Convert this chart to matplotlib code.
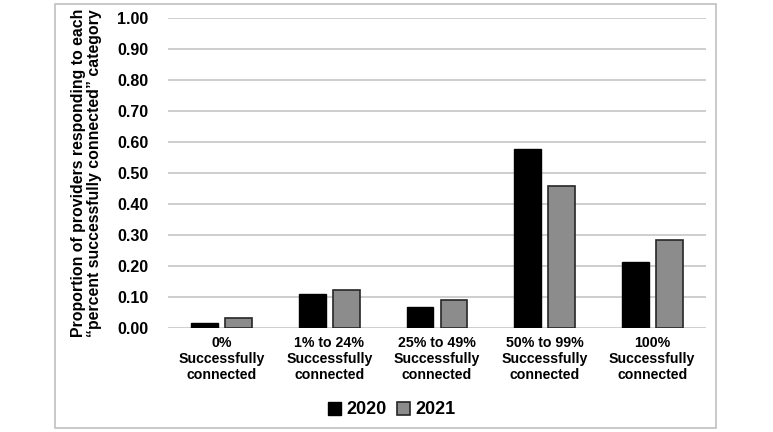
import matplotlib
matplotlib.use("Agg")
import matplotlib.pyplot as plt
import numpy as np
from matplotlib.patches import Rectangle

plt.rcParams['font.family'] = ['Liberation Sans', 'DejaVu Sans']

categories = ["0%\nSuccessfully\nconnected", "1% to 24%\nSuccessfully\nconnected",
              "25% to 49%\nSuccessfully\nconnected", "50% to 99%\nSuccessfully\nconnected",
              "100%\nSuccessfully\nconnected"]
vals_2020 = [0.016, 0.110, 0.068, 0.577, 0.214]
vals_2021 = [0.031, 0.123, 0.090, 0.459, 0.283]
yticks = [0.0, 0.1, 0.2, 0.3, 0.4, 0.5, 0.6, 0.7, 0.8, 0.9, 1.0]

fig = plt.figure(figsize=(7.73, 4.32), dpi=100)
ax = fig.add_axes([168 / 773, 1 - 328 / 432, 538 / 773, 310 / 432])

x = np.arange(len(categories))
w = 0.25
ax.bar(x - 0.158, vals_2020, w, color="black", edgecolor="black", linewidth=1, label="2020", zorder=3)
ax.bar(x + 0.158, vals_2021, w, color="#8c8c8c", edgecolor="#262626", linewidth=1.2, label="2021", zorder=3)

ax.set_xlim(-0.5, len(categories) - 0.5)
ax.set_ylim(0, 1.0)
ax.set_yticks(yticks)
ax.set_yticklabels([f"{v:.2f}" for v in yticks], fontsize=11.5, fontweight="bold")
ax.set_xticks(x)
ax.set_xticklabels(categories, fontsize=10.2, fontweight="bold", linespacing=1.15)
ax.tick_params(axis="both", length=0)
ax.tick_params(axis="y", pad=14)
ax.tick_params(axis="x", pad=6)
ax.grid(axis="y", color="#c6c6c6", linewidth=1.2, zorder=0)
for s in ax.spines.values():
    s.set_visible(False)

ax.set_ylabel("Proportion of providers responding to each\n\u201cpercent successfully connected\u201d category",
              fontsize=11.4, fontweight="bold", labelpad=11, linespacing=1.05)

leg = fig.legend(loc="center", bbox_to_anchor=(392 / 773, 1 - 410 / 432), ncol=2, frameon=False,
                 prop={"size": 13, "weight": "bold"}, handlelength=0.7, handleheight=0.7,
                 handletextpad=0.3, columnspacing=0.6)

fig.patches.append(Rectangle((55 / 773, 1 - 428 / 432), 661 / 773, 424 / 432,
                             transform=fig.transFigure, fill=False, edgecolor="#c0c0c0", linewidth=1.2))

fig.savefig("out.png", dpi=100)
